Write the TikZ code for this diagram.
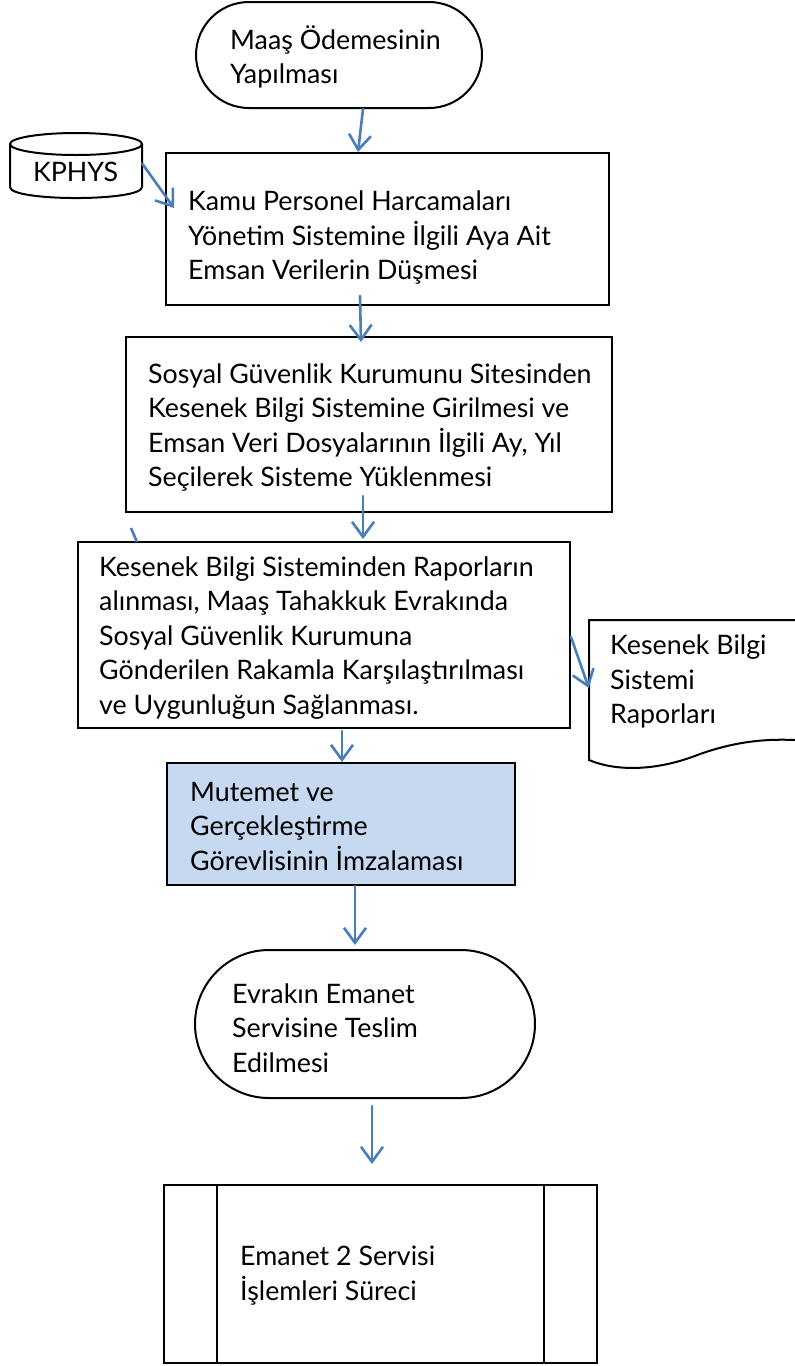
\documentclass[tikz,border=0pt]{standalone}
\usepackage{fontspec}
\setmainfont{Lato}
\usepackage{tikz}
\usetikzlibrary{arrows.meta,calc}
\definecolor{flowblue}{RGB}{74,126,187}
\definecolor{signfill}{RGB}{198,217,241}
\tikzset{
  boxline/.style={draw=black,line width=2pt},
  procbox/.style={boxline,fill=white,inner sep=0pt},
  termbox/.style={boxline,fill=white,inner sep=0pt,rounded corners=#1},
  lbl/.style={align=left,inner sep=0pt,anchor=west,font=\fontsize{26.8}{34.5}\selectfont},
  flow/.style={draw=flowblue,line width=2.6pt,line cap=round,-{Straight Barb[length=15pt,width=22pt]}},
  flowline/.style={draw=flowblue,line width=2.6pt}
}

\begin{document}
\begin{tikzpicture}
    [x=1pt,y=-1pt]
    \useasboundingbox (0,0) rectangle (795,1366);

    % boxes
    \node[termbox=53pt,minimum width=286pt,minimum height=106pt] (basla) at (339,55) {};
    \node[procbox,minimum width=443pt,minimum height=152pt] (kamu) at (387.5,229) {};
    \node[procbox,minimum width=486pt,minimum height=175pt] (sgk) at (369,424.5) {};
    \node[procbox,minimum width=492pt,minimum height=186pt] (rapor) at (324,635) {};
    \node[procbox,fill=signfill,minimum width=348pt,minimum height=122pt] (imza) at (341,824) {};
    \node[termbox=74pt,minimum width=340pt,minimum height=148pt] (teslim) at (365,1024) {};
    \node[procbox,minimum width=433pt,minimum height=178pt] (emanet) at (380.5,1274) {};
    \draw[boxline] ([xshift=54pt]emanet.north west) -- ([xshift=54pt]emanet.south west);
    \draw[boxline] ([xshift=-54pt]emanet.north east) -- ([xshift=-54pt]emanet.south east);

    % KPHYS
    \node[inner sep=0pt,minimum width=132pt,minimum height=65pt] (kphys) at (76,165.5) {};
    \draw[boxline,fill=white] (10,144) -- (10,187) .. controls (10,201.7) and (142,201.7) .. (142,187) -- (142,144);
    \draw[boxline,fill=white] (76,144) ellipse [x radius=66pt,y radius=11pt];
    \node[lbl,anchor=center] (kphystxt) at (75.5,172) {KPHYS};

    % rapor belgesi
    \node[inner sep=0pt,minimum width=206pt,minimum height=140pt] (kbs) at (692,690) {};
    \draw[boxline,fill=white] (795,620) -- (589,620) -- (589,760)
      .. controls (615,771) and (655,772) .. (700,754)
      .. controls (740,740) and (770,739) .. (795,740);

    % texts
    \node[lbl] (baslatxt) at (230,57) {Maaş Ödemesinin\\Yapılması};
    \node[lbl] (kamutxt) at (188,238) {Kamu Personel Harcamaları\\Yönetim Sistemine İlgili Aya Ait\\Emsan Verilerin Düşmesi};
    \node[lbl] (sgktxt) at (148,427.5) {Sosyal Güvenlik Kurumunu Sitesinden\\Kesenek Bilgi Sistemine Girilmesi ve\\Emsan Veri Dosyalarının İlgili Ay, Yıl\\Seçilerek Sisteme Yüklenmesi};
    \node[lbl] (raportxt) at (99,638) {Kesenek Bilgi Sisteminden Raporların\\alınması, Maaş Tahakkuk Evrakında\\Sosyal Güvenlik Kurumuna\\Gönderilen Rakamla Karşılaştırılması\\ve Uygunluğun Sağlanması.};
    \node[lbl] (kbstxt) at (610,681.5) {Kesenek Bilgi\\Sistemi\\Raporları};
    \node[lbl] (imzatxt) at (190,826) {Mutemet ve\\Gerçekleştirme\\Görevlisinin İmzalaması};
    \node[lbl] (teslimtxt) at (232,1028) {Evrakın Emanet\\Servisine Teslim\\Edilmesi};
    \node[lbl] (emanettxt) at (240,1275.5) {Emanet 2 Servisi\\İşlemleri Süreci};

    % arrows
    \draw[flow] ([xshift=24pt]basla.south) -- ([xshift=-29.5pt]kamu.north);
    \draw[flow] ([yshift=2pt]kphys.east) -- ([xshift=9pt,yshift=21pt]kamu.west);
    \draw[flow] ([xshift=-27.5pt,yshift=10pt]kamu.south) -- ([xshift=-8pt,yshift=-6pt]sgk.north);
    \draw[flow] ([xshift=-6pt,yshift=17pt]sgk.south) -- ([xshift=39pt,yshift=2pt]rapor.north);
    \draw[flow] ([yshift=-2pt]rapor.east) -- ([yshift=2pt]kbs.west);
    \draw[flow] ([xshift=18pt,yshift=-2pt]rapor.south) -- ([xshift=1pt]imza.north);
    \draw[flow] ([xshift=14pt]imza.south) -- ([xshift=-10pt,yshift=4pt]teslim.north);
    \draw[flow] ([xshift=7pt,yshift=-7pt]teslim.south) -- ([xshift=-8.5pt,yshift=20pt]emanet.north);

    \coordinate (ucA) at (131,528);
    \coordinate (ucB) at (137,542);
    \draw[flowline] (ucA) -- (ucB);
  \end{tikzpicture}
\end{document}
